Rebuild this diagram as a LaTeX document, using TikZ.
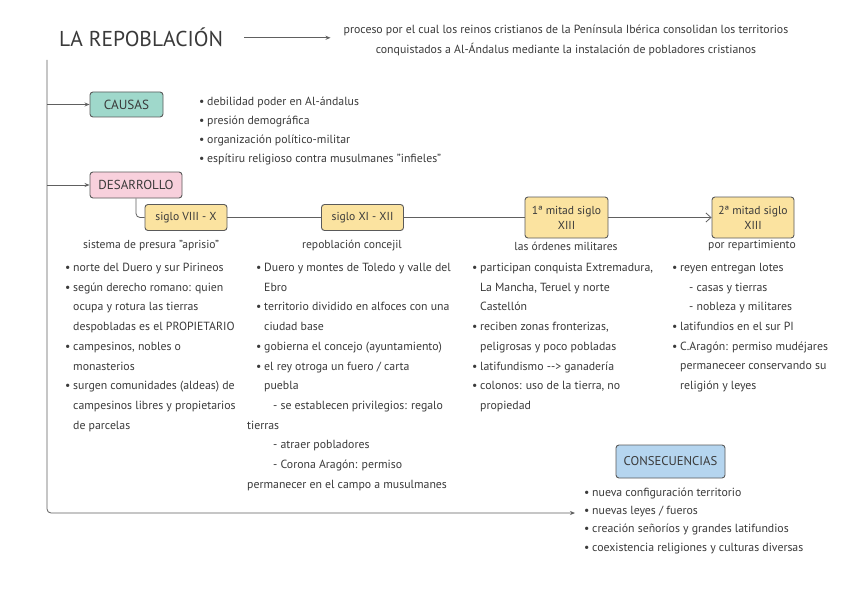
\documentclass[tikz,border=0pt]{standalone}
\usepackage{fontspec}
\setmainfont{PT Sans}
\usetikzlibrary{arrows.meta}
\definecolor{txt}{HTML}{3A3A3A}
\definecolor{bord}{HTML}{5A5A5A}
\definecolor{lin}{HTML}{606060}
\definecolor{teal}{HTML}{9FD8CB}
\definecolor{pinkb}{HTML}{F8D0DC}
\definecolor{yell}{HTML}{FBE3A0}
\definecolor{blueb}{HTML}{B5D5EF}
\newcommand\bl{\makebox[8pt][l]{•}}
\newcommand\ind[1]{\hspace*{#1pt}}
\begin{document}
\begin{tikzpicture}[x=1pt,y=-1pt,
  every node/.style={text=txt},
  box/.style={draw=bord, line width=0.9pt, rounded corners=3pt, inner sep=0pt, align=center},
  conn/.style={draw=lin, line width=0.8pt},
  tip/.style={-{Stealth[length=5pt,width=4pt]}},
  col/.style={anchor=north west, inner sep=0pt, align=left, font=\fontsize{11.8}{19.7}\selectfont},
  lbl/.style={inner sep=0pt, font=\fontsize{11.6}{12}\selectfont}]
\useasboundingbox[fill=white] (0,0) rectangle (848,599);

% title
\node[anchor=base west, inner sep=0pt, font=\fontsize{21.5}{24}\selectfont] (title) at (59,47) {LA REPOBLACIÓN};
\node[align=center, inner sep=0pt, font=\fontsize{11.8}{20}\selectfont] (def) at (566,40)
  {proceso por el cual los reinos cristianos de la Península Ibérica consolidan los territorios\\
   conquistados a Al-Ándalus mediante la instalación de pobladores cristianos};
\coordinate (tstart) at ([xshift=21pt]title.east);
\coordinate (tend) at ([xshift=-13pt]def.west |- tstart);
\draw[conn,tip] (tstart) -- (tend);

% boxes
\node[box, fill=teal, minimum width=73pt, minimum height=25pt, font=\fontsize{13.2}{14}\selectfont] (causas) at (126.5,104.5) {CAUSAS};
\node[box, fill=pinkb, minimum width=92pt, minimum height=26pt, font=\fontsize{13}{14}\selectfont] (desa) at (136,185) {DESARROLLO};
\node[box, fill=yell, minimum width=82pt, minimum height=26pt, font=\fontsize{11.6}{13}\selectfont] (s1) at (186,217.5) {siglo VIII - X};
\node[box, fill=yell, minimum width=82pt, minimum height=26pt, font=\fontsize{11.6}{13}\selectfont] (s2) at (362.5,217.5) {siglo XI - XII};
\node[box, fill=yell, minimum width=83pt, minimum height=41pt, font=\fontsize{11.6}{15}\selectfont] (s3) at (566.5,217.5) {1ª mitad siglo\\XIII};
\node[box, fill=yell, minimum width=82pt, minimum height=41pt, font=\fontsize{11.6}{15}\selectfont] (s4) at (753,217.5) {2ª mitad siglo\\XIII};
\node[box, fill=blueb, minimum width=109pt, minimum height=33pt, font=\fontsize{12.7}{14}\selectfont] (cons) at (670.5,461.5) {CONSECUENCIAS};

% trunk and branches
\coordinate (trunktop) at (47,60);
\coordinate (trunkend) at (575,513);
\draw[conn,tip,rounded corners=4pt] (trunktop) |- (trunkend);
\draw[conn,tip] (trunktop |- causas.west) -- (causas.west);
\draw[conn,tip] (trunktop |- desa.west) -- (desa.west);
\draw[conn,rounded corners=4pt] (desa.south) |- (s1.west);
\draw[conn] (s1) -- (s2);
\draw[conn] (s2) -- (s3);
\draw[conn,-{Straight Barb[length=5pt,width=9pt]}] (s3) -- (s4);

% causas list
\node[col, font=\fontsize{11.8}{19}\selectfont] (lcausas) at (199,97)
  {\bl debilidad poder en Al-ándalus\\
   \bl presión demográfica\\
   \bl organización político-militar\\
   \bl espítiru religioso contra musulmanes "infieles"};

% subtitles
\node[lbl] (t1) at (151,246) {sistema de presura "aprisio"};
\node[lbl] (t2) at (352,246) {repoblación concejil};
\node[lbl] (t3) at (566,246) {las órdenes militares};
\node[lbl] (t4) at (752,246) {por repartimiento};

% columns
\node[col] (c1) at (65,263)
  {\bl norte del Duero y sur Pirineos\\
   \bl según derecho romano: quien\\
   \ind{8}ocupa y rotura las tierras\\
   \ind{8}despobladas es el PROPIETARIO\\
   \bl campesinos, nobles o\\
   \ind{8}monasterios\\
   \bl surgen comunidades (aldeas) de\\
   \ind{8}campesinos libres y propietarios\\
   \ind{8}de parcelas};

\node[col] (c2) at (247,263)
  {\ind{9}\bl Duero y montes de Toledo y valle del\\
   \ind{17}Ebro\\
   \ind{9}\bl territorio dividido en alfoces con una\\
   \ind{17}ciudad base\\
   \ind{9}\bl gobierna el concejo (ayuntamiento)\\
   \ind{9}\bl el rey otroga un fuero / carta\\
   \ind{17}puebla\\
   \ind{26}- se establecen privilegios: regalo\\
   tierras\\
   \ind{26}- atraer pobladores\\
   \ind{26}- Corona Aragón: permiso\\
   permanecer en el campo a musulmanes};

\node[col] (c3) at (472,263)
  {\bl participan conquista Extremadura,\\
   \ind{8}La Mancha, Teruel y norte\\
   \ind{8}Castellón\\
   \bl reciben zonas fronterizas,\\
   \ind{8}peligrosas y poco pobladas\\
   \bl latifundismo {-}{-}> ganadería\\
   \bl colonos: uso de la tierra, no\\
   \ind{8}propiedad};

\node[col] (c4) at (672,263)
  {\bl reyen entregan lotes\\
   \ind{17}- casas y tierras\\
   \ind{17}- nobleza y militares\\
   \bl latifundios en el sur PI\\
   \bl C.Aragón: permiso mudéjares\\
   \ind{8}permaneceer conservando su\\
   \ind{8}religión y leyes};

% consecuencias list
\node[col, font=\fontsize{11.8}{18.3}\selectfont] (lcons) at (584,487.5)
  {\bl nueva configuración territorio\\
   \bl nuevas leyes / fueros\\
   \bl creación señoríos y grandes latifundios\\
   \bl coexistencia religiones y culturas diversas};
\end{tikzpicture}
\end{document}
